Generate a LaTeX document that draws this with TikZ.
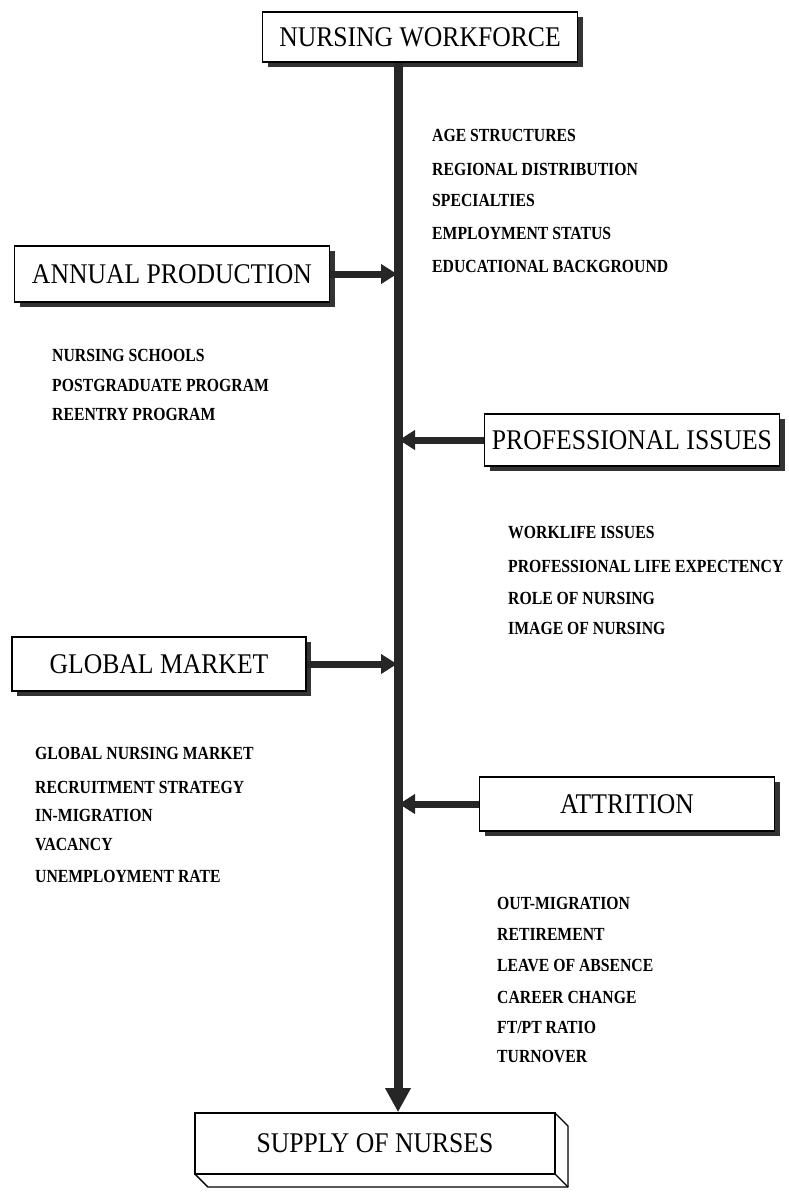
\documentclass[tikz,border=0pt]{standalone}
\usepackage{fontspec}
\setmainfont{Liberation Serif}
\newfontfamily\titlefont[FakeStretch=0.9]{Liberation Serif}
\newfontfamily\itemfont[FakeStretch=0.85]{Liberation Serif}
\usetikzlibrary{arrows.meta,shadows}
\tikzset{
  titlebox/.style={draw=black, line width=1.6pt, fill=white, inner sep=0pt,
    font=\titlefont\fontsize{28.5}{32}\selectfont,
    drop shadow={shadow xshift=5pt, shadow yshift=-5pt, fill=black!80, opacity=1}},
  item/.style={anchor=west, inner sep=0pt, font=\itemfont\bfseries\fontsize{18.5}{22}\selectfont},
  feed/.style={draw=black!85, line width=7pt, -{Triangle[length=16pt,width=19pt]}, shorten >=1pt},
  spinearrow/.style={draw=black!85, line width=9pt, -{Triangle[length=24pt,width=24pt]}},
}
\begin{document}
\begin{tikzpicture}[x=1pt,y=-1pt]
\useasboundingbox (0,0) rectangle (788,1197);
\coordinate (spine) at (398,0);

% boxes
\node[titlebox, minimum width=315pt, minimum height=50pt] (nw) at (420,37) {NURSING WORKFORCE};
\node[titlebox, minimum width=315pt, minimum height=56pt] (ap) at (172,274) {ANNUAL PRODUCTION};
\node[titlebox, minimum width=295pt, minimum height=52pt] (pi) at (632,440) {PROFESSIONAL ISSUES};
\node[titlebox, minimum width=294pt, minimum height=54pt] (gm) at (159,664) {GLOBAL MARKET};
\node[titlebox, minimum width=295pt, minimum height=54pt] (at) at (627,804) {ATTRITION};

% supply of nurses: 3-D box
\coordinate (s1) at (195,1113);
\coordinate (s2) at (555,1113);
\coordinate (s3) at (555,1174);
\coordinate (s4) at (195,1174);
\fill[white] (s2) -- ++(13,13) -- ++(0,61) -- ++(-360,0) -- (s4) -- (s3) -- cycle;
\draw[line width=1.4pt, line join=round] (s2) -- ++(13,13) -- ++(0,61) -- ++(-360,0) -- (s4);
\draw[line width=1.4pt] (s3) -- ++(13,13);
\node[draw=black, line width=1.6pt, fill=white, inner sep=0pt,
      font=\titlefont\fontsize{28.5}{32}\selectfont,
      minimum width=360pt, minimum height=61pt] (sup) at (375,1143.5) {SUPPLY OF NURSES};

% spine
\draw[spinearrow] (nw.south -| spine) -- (sup.north -| spine);

% feeding arrows
\draw[feed] (ap.east) -- (ap.east -| spine);
\draw[feed] (pi.west) -- (pi.west -| spine);
\draw[feed] (gm.east) -- (gm.east -| spine);
\draw[feed] (at.west) -- (at.west -| spine);

% lists
\node[item] (nw1) at (432,135) {AGE STRUCTURES};
\node[item] (nw2) at (432,169) {REGIONAL DISTRIBUTION};
\node[item] (nw3) at (432,200) {SPECIALTIES};
\node[item] (nw4) at (432,233) {EMPLOYMENT STATUS};
\node[item] (nw5) at (432,266) {EDUCATIONAL BACKGROUND};

\node[item] (ap1) at (52,355) {NURSING SCHOOLS};
\node[item] (ap2) at (52,385) {POSTGRADUATE PROGRAM};
\node[item] (ap3) at (52,414) {REENTRY PROGRAM};

\node[item] (pi1) at (508,533) {WORKLIFE ISSUES};
\node[item] (pi2) at (508,566) {PROFESSIONAL LIFE EXPECTENCY};
\node[item] (pi3) at (508,598) {ROLE OF NURSING};
\node[item] (pi4) at (508,628) {IMAGE OF NURSING};

\node[item] (gm1) at (35,753) {GLOBAL NURSING MARKET};
\node[item] (gm2) at (35,787) {RECRUITMENT STRATEGY};
\node[item] (gm3) at (35,815) {IN-MIGRATION};
\node[item] (gm4) at (35,845) {VACANCY};
\node[item] (gm5) at (35,876) {UNEMPLOYMENT RATE};

\node[item] (at1) at (497,903) {OUT-MIGRATION};
\node[item] (at2) at (497,934) {RETIREMENT};
\node[item] (at3) at (497,966) {LEAVE OF ABSENCE};
\node[item] (at4) at (497,997) {CAREER CHANGE};
\node[item] (at5) at (497,1027) {FT/PT RATIO};
\node[item] (at6) at (497,1057) {TURNOVER};
\end{tikzpicture}
\end{document}
